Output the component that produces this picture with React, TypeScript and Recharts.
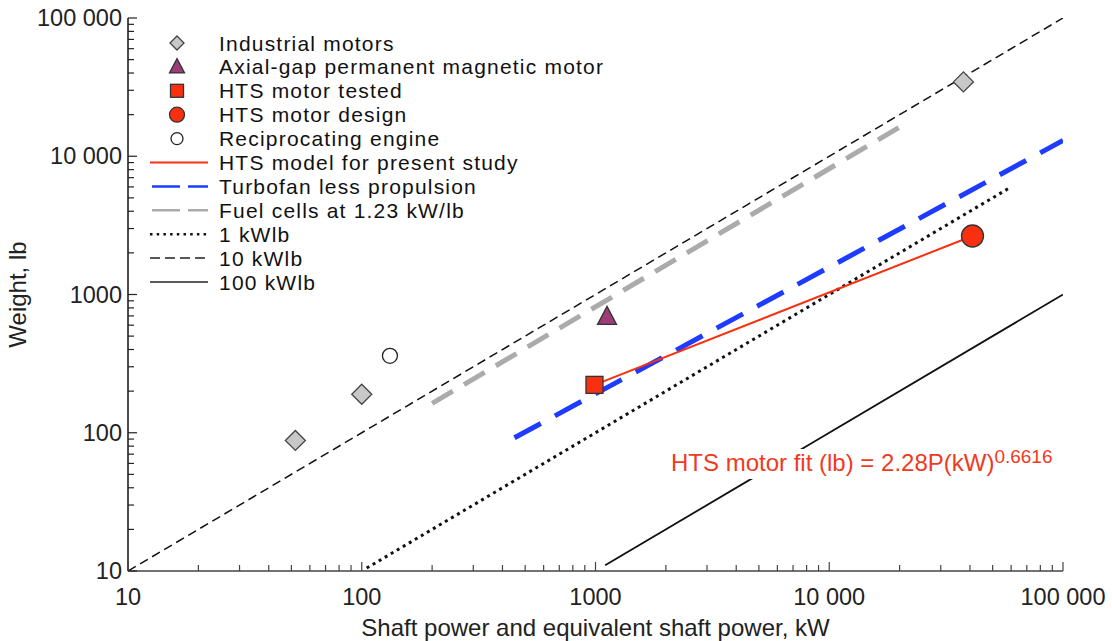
import React from 'react';
import { ComposedChart, Line, Scatter, XAxis, YAxis, Legend } from 'recharts';

const FONT = '"Liberation Sans", Arial, Helvetica, sans-serif';

// Axis ticks
const decades = [10, 100, 1000, 10000, 100000];
const minorMultipliers = [2, 3, 4, 5, 6, 7, 8, 9];
const tickLabels = ['10', '100', '1000', '10 000', '100 000'];
const allTicks = decades.flatMap((d) => (d === 100000 ? [d] : [d, ...minorMultipliers.map((m) => m * d)]));

// Point series (x: shaft power kW, y: weight lb)
const industrialMotors = [
  { x: 52, y: 88 },
  { x: 100, y: 190 },
  { x: 37500, y: 34500 },
];
const axialGapMotor = [{ x: 1120, y: 690 }];
const htsMotorTested = [{ x: 990, y: 222 }];
const htsMotorDesign = [{ x: 41000, y: 2650 }];
const reciprocatingEngine = [{ x: 132, y: 360 }];

// Line series
const htsModel = [
  { x: 990, y: 222 },
  { x: 41000, y: 2650 },
];
const turbofan = [
  { x: 450, y: 92 },
  { x: 100000, y: 13000 },
];
const fuelCells = [
  { x: 200, y: 163 },
  { x: 20000, y: 16260 },
];
const line1 = [
  { x: 105, y: 10.5 },
  { x: 60000, y: 6000 },
];
const line10 = [
  { x: 10, y: 10 },
  { x: 100000, y: 100000 },
];
const line100 = [
  { x: 1100, y: 11 },
  { x: 100000, y: 1000 },
];

const legendLabels = [
  'Industrial motors',
  'Axial-gap permanent magnetic motor',
  'HTS motor tested',
  'HTS motor design',
  'Reciprocating engine',
  'HTS model for present study',
  'Turbofan less propulsion',
  'Fuel cells at 1.23 kW/lb',
  '1 kWlb',
  '10 kWlb',
  '100 kWlb',
];
const legendKinds = ['diamond', 'triangle', 'square', 'circle', 'open', 'red', 'blue', 'gray', 'dot', 'dash', 'solid'];

const RED = '#f83010';
const BLUE = '#1e3cff';
const GRAY = '#ababab';
const PURPLE = '#9c3c78';
const EDGE = '#333';

const Diamond = (cx: number, cy: number, r: number) => (
  <polygon
    points={`${cx},${cy - r} ${cx + r},${cy} ${cx},${cy + r} ${cx - r},${cy}`}
    fill="#c8c8c8"
    stroke="#444"
    strokeWidth={1.3}
  />
);
const Triangle = (cx: number, cy: number, w: number) => (
  <polygon
    points={`${cx},${cy - w * 0.55} ${cx + w / 2},${cy + w * 0.4} ${cx - w / 2},${cy + w * 0.4}`}
    fill={PURPLE}
    stroke="#333"
    strokeWidth={1.3}
  />
);
const Square = (cx: number, cy: number, s: number) => (
  <rect x={cx - s / 2} y={cy - s / 2} width={s} height={s} fill={RED} stroke={EDGE} strokeWidth={1.3} />
);

const XTick = (props: any) => {
  const { x, y, payload } = props;
  const idx = decades.indexOf(payload.value);
  const major = idx >= 0;
  return (
    <g>
      <line x1={x} x2={x} y1={y} y2={y - (major ? 9 : 6)} stroke="#444" strokeWidth={1.2} />
      {major && (
        <text x={x} y={y + 34} textAnchor="middle" fontSize={23.5} fontFamily={FONT} fill="#222">
          {tickLabels[idx]}
        </text>
      )}
    </g>
  );
};

const YTick = (props: any) => {
  const { x, y, payload } = props;
  const idx = decades.indexOf(payload.value);
  const major = idx >= 0;
  return (
    <g>
      <line x1={x} x2={x + (major ? 9 : 6)} y1={y} y2={y} stroke="#222" strokeWidth={1.2} />
      {major && (
        <text x={x - 6} y={y + 8} textAnchor="end" fontSize={23.5} fontFamily={FONT} fill="#222">
          {tickLabels[idx]}
        </text>
      )}
    </g>
  );
};

const LegendContent = () => {
  const rowH = 23.9;
  const mx = 27;
  return (
    <svg width={520} height={rowH * legendLabels.length + 4} style={{ overflow: 'visible' }}>
      {legendLabels.map((label, i) => {
        const cy = 12 + i * rowH;
        const k = legendKinds[i];
        let marker: any = null;
        if (k === 'diamond') marker = Diamond(mx, cy, 7);
        else if (k === 'triangle') marker = Triangle(mx, cy, 15);
        else if (k === 'square') marker = Square(mx, cy, 13);
        else if (k === 'circle') marker = <circle cx={mx} cy={cy} r={7.5} fill={RED} stroke={EDGE} strokeWidth={1.3} />;
        else if (k === 'open') marker = <circle cx={mx} cy={cy} r={6} fill="#fff" stroke="#222" strokeWidth={1.3} />;
        else if (k === 'red') marker = <line x1={0} x2={58} y1={cy} y2={cy} stroke={RED} strokeWidth={2} />;
        else if (k === 'blue') marker = <line x1={0} x2={58} y1={cy} y2={cy} stroke={BLUE} strokeWidth={2.5} strokeDasharray="28 8" strokeDashoffset={-2} />;
        else if (k === 'gray') marker = <line x1={0} x2={58} y1={cy} y2={cy} stroke={GRAY} strokeWidth={2.5} strokeDasharray="28 8" strokeDashoffset={-2} />;
        else if (k === 'dot') marker = <line x1={0} x2={58} y1={cy} y2={cy} stroke="#111" strokeWidth={2.5} strokeDasharray="2.5 4.2" />;
        else if (k === 'dash') marker = <line x1={0} x2={58} y1={cy} y2={cy} stroke="#222" strokeWidth={1.5} strokeDasharray="10 5" />;
        else marker = <line x1={0} x2={58} y1={cy} y2={cy} stroke="#222" strokeWidth={1.5} />;
        return (
          <g key={label}>
            {marker}
            <text x={69} y={cy + 7.5} fontSize={21} letterSpacing={1.2} fontFamily={FONT} fill="#111">
              {label}
            </text>
          </g>
        );
      })}
    </svg>
  );
};

export default function App() {
  return (
    <div style={{ position: 'absolute', left: 0, top: 0, width: 1112, height: 641, background: '#fff', fontFamily: FONT }}>
      <ComposedChart width={1112} height={641} margin={{ top: 18, right: 49, left: 0, bottom: 0 }}>
        <XAxis
          type="number"
          dataKey="x"
          scale="log"
          domain={[10, 100000]}
          allowDataOverflow
          ticks={allTicks}
          interval={0}
          tickSize={0}
          tickMargin={0}
          tick={<XTick />}
          height={70}
          axisLine={{ stroke: '#444', strokeWidth: 1.5 }}
          label={{
            value: 'Shaft power and equivalent shaft power, kW',
            position: 'insideBottom',
            offset: 5,
            style: { fontSize: 24, fontFamily: FONT, fill: '#222' },
          }}
        />
        <YAxis
          type="number"
          dataKey="y"
          scale="log"
          domain={[10, 100000]}
          allowDataOverflow
          ticks={allTicks}
          interval={0}
          tickSize={0}
          tickMargin={0}
          tick={<YTick />}
          width={128}
          axisLine={{ stroke: '#111', strokeWidth: 1.5 }}
          label={{
            value: 'Weight, lb',
            angle: -90,
            position: 'insideLeft',
            offset: 17,
            style: { fontSize: 24, fontFamily: FONT, fill: '#222', textAnchor: 'middle' },
          }}
        />
        <Legend
          layout="vertical"
          align="center"
          verticalAlign="middle"
          content={<LegendContent />}
          wrapperStyle={{ left: 150, top: 31, width: 520, height: 270 }}
        />
        <Line data={line10} dataKey="y" stroke="#111" strokeWidth={1.5} strokeDasharray="9 5" dot={false} activeDot={false} isAnimationActive={false} />
        <Line data={line1} dataKey="y" stroke="#111" strokeWidth={3} strokeDasharray="3 4" dot={false} activeDot={false} isAnimationActive={false} />
        <Line data={line100} dataKey="y" stroke="#111" strokeWidth={1.8} dot={false} activeDot={false} isAnimationActive={false} />
        <Line data={fuelCells} dataKey="y" stroke={GRAY} strokeWidth={5} strokeDasharray="24 13" dot={false} activeDot={false} isAnimationActive={false} />
        <Line data={turbofan} dataKey="y" stroke={BLUE} strokeWidth={5} strokeDasharray="30 16" dot={false} activeDot={false} isAnimationActive={false} />
        <Line data={htsModel} dataKey="y" stroke={RED} strokeWidth={2} dot={false} activeDot={false} isAnimationActive={false} />
        <Scatter data={industrialMotors} dataKey="y" isAnimationActive={false} shape={(p: any) => Diamond(p.cx, p.cy, 10)} />
        <Scatter data={axialGapMotor} dataKey="y" isAnimationActive={false} shape={(p: any) => Triangle(p.cx, p.cy, 19)} />
        <Scatter data={htsMotorTested} dataKey="y" isAnimationActive={false} shape={(p: any) => Square(p.cx, p.cy, 17)} />
        <Scatter
          data={htsMotorDesign}
          dataKey="y"
          isAnimationActive={false}
          shape={(p: any) => <circle cx={p.cx} cy={p.cy} r={11} fill={RED} stroke={EDGE} strokeWidth={1.3} />}
        />
        <Scatter
          data={reciprocatingEngine}
          dataKey="y"
          isAnimationActive={false}
          shape={(p: any) => <circle cx={p.cx} cy={p.cy} r={7.5} fill="#fff" stroke="#222" strokeWidth={1.3} />}
        />
      </ComposedChart>
      <div
        style={{
          position: 'absolute',
          left: 669,
          top: 449,
          fontSize: 24,
          lineHeight: '28px',
          color: '#f03a1e',
          background: '#fff',
          padding: '0 2px',
          whiteSpace: 'nowrap',
        }}
      >
        HTS motor fit (lb) = 2.28P(kW)
        <span style={{ fontSize: 19, position: 'relative', top: -8 }}>0.6616</span>
      </div>
    </div>
  );
}
